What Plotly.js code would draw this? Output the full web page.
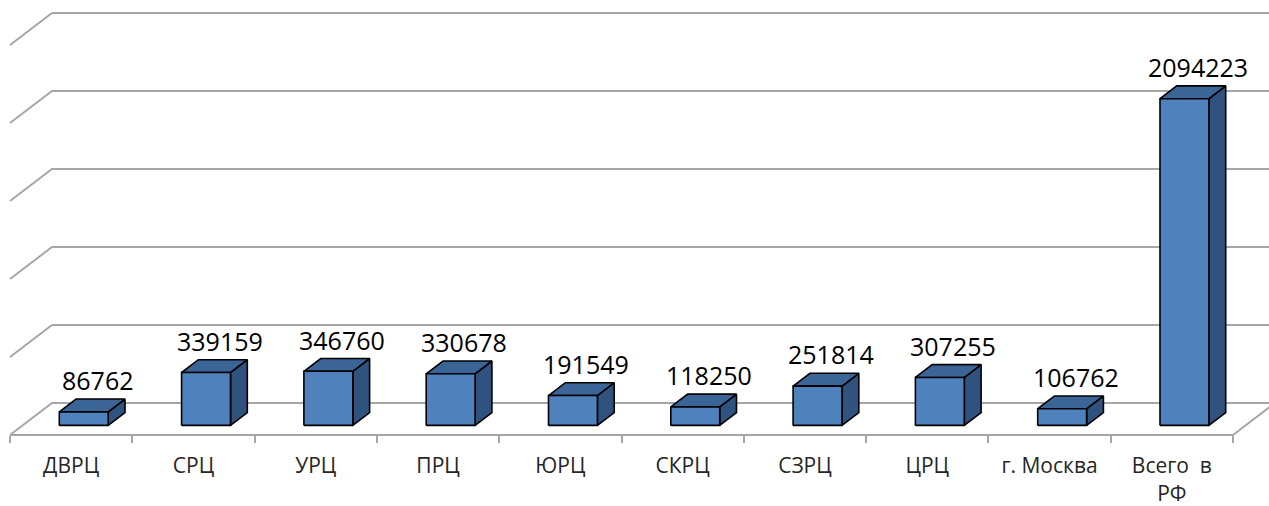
<!DOCTYPE html>
<html>
<head>
<meta charset="utf-8">
<script src="https://cdn.plot.ly/plotly-3.0.1.min.js"></script>
<style>html,body{margin:0;padding:0;background:#fff;}#chart{width:1269px;height:506px;}</style>
</head>
<body>
<div id="chart"></div>
<script>
// ---- data ----
const categories = ['ДВРЦ', 'СРЦ', 'УРЦ', 'ПРЦ', 'ЮРЦ', 'СКРЦ', 'СЗРЦ', 'ЦРЦ', 'г. Москва', 'Всего\u00a0 в<br>РФ'];
const values = [86762, 339159, 346760, 330678, 191549, 118250, 251814, 307255, 106762, 2094223];
const gridValues = [0, 500000, 1000000, 1500000, 2000000, 2500000];
const labelTexts = values.map(v => String(v));

// ---- oblique projection (depth offset expressed in axis units) ----
const PX_PER_CAT = 122.3;
const VAL_PER_PX = 500000 / 78;
const DX = 42 / PX_PER_CAT;       // depth shift along x (category units)
const DY = 32 * VAL_PER_PX;       // depth shift along y (value units)
const D0 = 0.3, D1 = 0.7;         // bar depth span
const HALF_W = 0.2;               // bar half width (category units)
const N = categories.length;

function P(x, v, d) { return [x + d * DX, v + d * DY]; }

function polyTrace(polys, fill, lineColor, lineWidth, closeLine) {
  const xs = [], ys = [];
  polys.forEach(poly => {
    poly.forEach(p => { xs.push(p[0]); ys.push(p[1]); });
    if (closeLine) { xs.push(poly[0][0]); ys.push(poly[0][1]); }
    xs.push(null); ys.push(null);
  });
  return {
    type: 'scatter', mode: 'lines', x: xs, y: ys,
    fill: fill ? 'toself' : 'none', fillcolor: fill || undefined,
    line: { color: lineColor, width: lineWidth },
    hoverinfo: 'skip', showlegend: false, connectgaps: false
  };
}

// gridlines: left wall diagonal + back wall horizontal
const gridPolys = gridValues.map(v => [P(0, v, 0), P(0, v, 1), P(N + 1, v, 1)]);
// floor front edge and right floor edge
const floorPolys = [[P(0, 0, 0), P(N, 0, 0), P(N, 0, 1)]];

const frontPolys = [], topPolys = [], sidePolys = [];
values.forEach((v, i) => {
  const c = i + 0.5;
  const l = c - HALF_W, r = c + HALF_W;
  frontPolys.push([P(l, 0, D0), P(r, 0, D0), P(r, v, D0), P(l, v, D0)]);
  topPolys.push([P(l, v, D0), P(r, v, D0), P(r, v, D1), P(l, v, D1)]);
  sidePolys.push([P(r, 0, D0), P(r, 0, D1), P(r, v, D1), P(r, v, D0)]);
});

const data = [
  polyTrace(gridPolys, null, '#a6a6a6', 2, false),
  polyTrace(floorPolys, null, '#a6a6a6', 2, false),
  polyTrace(sidePolys, '#30527f', '#000000', 1.6, true),
  polyTrace(topPolys, '#3c6597', '#000000', 1.6, true),
  polyTrace(frontPolys, '#4f81bd', '#000000', 1.6, true)
];

const annotations = values.map((v, i) => {
  const p = P(i + 0.5, v, D1);
  return {
    x: i + 0.5 + 0.55 * DX, y: p[1], xref: 'x', yref: 'y',
    text: labelTexts[i], showarrow: false, xanchor: 'center', yanchor: 'bottom',
    xshift: 3, yshift: 0,
    font: { family: 'Open Sans, Noto Sans, sans-serif', size: 25, color: '#000000' }
  };
});

const xRange = [-10 / PX_PER_CAT, 1259 / PX_PER_CAT];
const yRange = [-71 * VAL_PER_PX, 435 * VAL_PER_PX];
const axisPos = 71 / 506;

const layout = {
  width: 1269, height: 506,
  margin: { l: 0, r: 0, t: 0, b: 0, pad: 0 },
  paper_bgcolor: '#ffffff', plot_bgcolor: '#ffffff',
  showlegend: false,
  xaxis: {
    range: xRange, anchor: 'free', position: axisPos,
    showgrid: false, zeroline: false, showline: false,
    tickmode: 'array', tickvals: categories.map((_, i) => i + 0.5), ticktext: categories,
    ticks: 'outside', ticklen: 12, tickcolor: 'rgba(0,0,0,0)',
    tickfont: { family: 'Open Sans, Noto Sans, sans-serif', size: 21, color: '#262626' },
    fixedrange: true
  },
  xaxis2: {
    range: xRange, overlaying: 'x', anchor: 'free', position: axisPos, side: 'bottom',
    showgrid: false, zeroline: false, showline: false,
    tickmode: 'array', tickvals: categories.map((_, i) => i).concat([N]),
    ticks: 'outside', ticklen: 7, tickwidth: 2, tickcolor: '#a6a6a6', showticklabels: false,
    fixedrange: true
  },
  yaxis: { range: yRange, visible: false, fixedrange: true },
  annotations: annotations
};

// dummy trace to activate xaxis2
data.push({ type: 'scatter', x: [0], y: [yRange[0] * 2], xaxis: 'x2', mode: 'markers', marker: { opacity: 0 }, hoverinfo: 'skip', showlegend: false });

Plotly.newPlot('chart', data, layout, { displayModeBar: false, staticPlot: true });
</script>
</body>
</html>
